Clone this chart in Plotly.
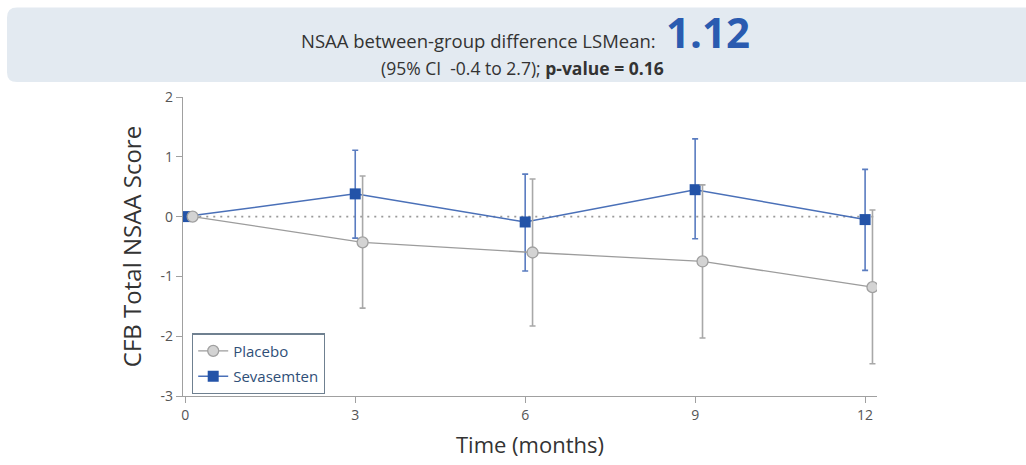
import plotly.graph_objects as go

# ---- data ----
months = [0, 3, 6, 9, 12]
placebo_mean = [0, -0.43, -0.60, -0.75, -1.18]
placebo_upper = [0, 0.68, 0.63, 0.53, 0.11]
placebo_lower = [0, -1.53, -1.83, -2.03, -2.46]
seva_mean = [0, 0.38, -0.09, 0.45, -0.05]
seva_upper = [0, 1.11, 0.71, 1.30, 0.79]
seva_lower = [0, -0.36, -0.91, -0.37, -0.90]
x_ticks = [0, 3, 6, 9, 12]
y_ticks = [-3, -2, -1, 0, 1, 2]

W, H = 1026, 465
ML, MR, MT, MB = 183, 149, 97, 67
PW, PH = W - ML - MR, H - MT - MB

def px(x):
    return (x - ML) / PW

def py(y):
    return (H - MB - y) / PH

offset = 0.13
placebo_x = [m + offset for m in months]

FONT = "Open Sans"
fig = go.Figure()

fig.add_trace(go.Scatter(
    x=months, y=seva_mean, name="Sevasemten", mode="lines+markers",
    legendgroup="s", legendrank=2,
    line=dict(color="#4a70b8", width=1.5),
    marker=dict(symbol="square", size=11, color="#2353a8", line=dict(width=0)),
    error_y=dict(type="data", symmetric=False,
                 array=[u - m for u, m in zip(seva_upper, seva_mean)],
                 arrayminus=[m - l for l, m in zip(seva_lower, seva_mean)],
                 color="#5a7cc0", thickness=1.6, width=3),
))
fig.add_trace(go.Scatter(
    x=placebo_x, y=placebo_mean, name="Placebo", mode="lines+markers",
    legendgroup="p", legendrank=1,
    line=dict(color="#9c9c9c", width=1.3),
    marker=dict(symbol="circle", size=11, color="#d3d3d3", line=dict(color="#a0a0a0", width=1.3)),
    error_y=dict(type="data", symmetric=False,
                 array=[u - m for u, m in zip(placebo_upper, placebo_mean)],
                 arrayminus=[m - l for l, m in zip(placebo_lower, placebo_mean)],
                 color="#a8a8a8", thickness=1.6, width=3),
))

shapes = [
    dict(type="line", xref="x", yref="y", x0=0, x1=12.2, y0=0, y1=0,
         line=dict(color="#9a9a9a", width=1.8, dash="2px,5px"), layer="below"),
    # banner
    dict(type="path", xref="paper", yref="paper",
         path=(f"M {px(17)} {py(7)} L {px(1030)} {py(7)} L {px(1030)} {py(82)} "
               f"L {px(17)} {py(82)} Q {px(7)} {py(82)} {px(7)} {py(72)} "
               f"L {px(7)} {py(17)} Q {px(7)} {py(7)} {px(17)} {py(7)} Z"),
         fillcolor="#e3eaf1", line=dict(width=0), layer="below"),
]

annotations = [
    dict(xref="paper", yref="paper", x=px(658), y=py(40), xanchor="right", yanchor="middle",
         text="NSAA between-group difference LSMean:", showarrow=False,
         font=dict(family=FONT, size=18.5, color="#333333")),
    dict(xref="paper", yref="paper", x=px(664), y=py(31), xanchor="left", yanchor="middle",
         text="<b>1.12</b>", showarrow=False,
         font=dict(family=FONT, size=42, color="#2a5bb0")),
    dict(xref="paper", yref="paper", x=px(522), y=py(68), xanchor="center", yanchor="middle",
         text="(95% CI  -0.4 to 2.7); <b>p-value = 0.16</b>", showarrow=False,
         font=dict(family=FONT, size=17.5, color="#333333")),
]

fig.update_layout(
    width=W, height=H,
    margin=dict(l=ML, r=MR, t=MT, b=MB),
    paper_bgcolor="white", plot_bgcolor="white",
    font=dict(family=FONT, color="#444444"),
    shapes=shapes, annotations=annotations,
    showlegend=True,
    legend=dict(x=px(192), y=py(335), xanchor="left", yanchor="top",
                bordercolor="#6f8090", borderwidth=1.2, bgcolor="white",
                font=dict(family=FONT, size=15, color="#2f4f78"),
                traceorder="grouped", itemwidth=30, tracegroupgap=3),
    xaxis=dict(range=[-0.04, 12.21], tickvals=x_ticks, ticktext=[str(v) for v in x_ticks],
               showline=True, linecolor="#a0a0a0", linewidth=1.3, ticks="outside",
               ticklen=6, tickcolor="#a0a0a0", showgrid=False, zeroline=False,
               tickfont=dict(family=FONT, size=14, color="#555555"),
               title=dict(text="Time (months)", standoff=14,
                          font=dict(family=FONT, size=22, color="#333333"))),
    yaxis=dict(range=[-3, 2], tickvals=y_ticks, ticktext=[str(v) for v in y_ticks],
               showline=True, linecolor="#a0a0a0", linewidth=1.3, ticks="outside",
               ticklen=6, tickcolor="#a0a0a0", showgrid=False, zeroline=False,
               tickfont=dict(family=FONT, size=14, color="#555555"),
               title=dict(text="CFB Total NSAA Score", standoff=12,
                          font=dict(family=FONT, size=24, color="#333333"))),
)

fig.write_html("out.html")
